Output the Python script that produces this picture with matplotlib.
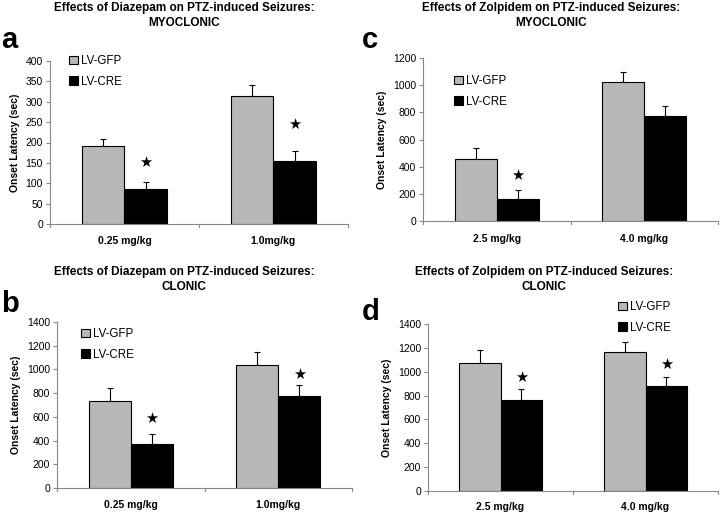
import matplotlib
matplotlib.use("Agg")
import matplotlib.pyplot as plt
from matplotlib.patches import Patch

plt.rcParams['font.family'] = ['Liberation Sans', 'DejaVu Sans']

series_names = ["LV-GFP", "LV-CRE"]

# Panel a: Diazepam myoclonic
a_cats = ["0.25 mg/kg", "1.0mg/kg"]
a_gfp = [192, 315]
a_gfp_err = [17, 27]
a_cre = [87, 155]
a_cre_err = [17, 25]
a_sig = [150, 245]  # star heights over LV-CRE

# Panel c: Zolpidem myoclonic
c_cats = ["2.5 mg/kg", "4.0 mg/kg"]
c_gfp = [460, 1025]
c_gfp_err = [80, 75]
c_cre = [160, 775]
c_cre_err = [65, 70]
c_sig = [335, None]

# Panel b: Diazepam clonic
b_cats = ["0.25 mg/kg", "1.0mg/kg"]
b_gfp = [730, 1040]
b_gfp_err = [110, 110]
b_cre = [370, 775]
b_cre_err = [85, 95]
b_sig = [590, 960]

# Panel d: Zolpidem clonic
d_cats = ["2.5 mg/kg", "4.0 mg/kg"]
d_gfp = [1070, 1165]
d_gfp_err = [115, 85]
d_cre = [765, 880]
d_cre_err = [90, 75]
d_sig = [950, 1060]

W, H = 720, 514
fig = plt.figure(figsize=(7.2, 5.14), dpi=100)

GRAY = "#b8b8b8"
SPINE = "#888888"

def px_axes(l, t, r, b):
    return fig.add_axes([l / W, 1 - b / H, (r - l) / W, (b - t) / H])

def panel(box, cats, gfp, gerr, cre, cerr, sig, ymax, ystep, title, letter,
          title_xy, letter_xy, leg_xy, tickpad):
    ax = px_axes(*box)
    x = list(range(len(cats)))
    w = 0.285
    xg = [i - w / 2 for i in x]
    xc = [i + w / 2 for i in x]
    ax.bar(xg, gfp, width=w, color=GRAY, edgecolor="black", linewidth=0.8, zorder=2)
    ax.bar(xc, cre, width=w, color="black", edgecolor="black", linewidth=0.8, zorder=2)
    ax.errorbar(xg, gfp, yerr=[[0] * len(gfp), gerr], fmt="none", ecolor="black",
                elinewidth=0.8, capsize=2.5, capthick=0.8, zorder=1)
    ax.errorbar(xc, cre, yerr=[[0] * len(cre), cerr], fmt="none", ecolor="black",
                elinewidth=0.8, capsize=2.5, capthick=0.8, zorder=1)
    for xi, s in zip(xc, sig):
        if s is not None:
            ax.text(xi, s, "★", ha="center", va="center", fontsize=10.5,
                    family=["DejaVu Sans"], color="black")
    ax.set_xlim(-0.5, len(cats) - 0.5)
    ax.set_ylim(0, ymax)
    ax.set_yticks(range(0, ymax + 1, ystep))
    ax.tick_params(axis="y", labelsize=7.5, length=3, color=SPINE, width=0.8, pad=2)
    ax.set_xticks(x)
    ax.set_xticklabels(cats, fontsize=7.5, fontweight="bold")
    ax.tick_params(axis="x", length=0, pad=tickpad)
    # boundary ticks on x axis
    for bx in [i - 0.5 for i in range(len(cats) + 1)]:
        ax.plot([bx, bx], [0, -ymax * 0.018], color=SPINE, lw=0.8, clip_on=False)
    for s in ["top", "right"]:
        ax.spines[s].set_visible(False)
    for s in ["left", "bottom"]:
        ax.spines[s].set_color(SPINE)
        ax.spines[s].set_linewidth(0.8)
    ax.set_ylabel("Onset Latency (sec)", fontsize=7.5, fontweight="bold", labelpad=4)
    fig.text(title_xy[0] / W, 1 - title_xy[1] / H, title, ha="center", va="top",
             fontsize=8.5, fontweight="bold", linespacing=1.35)
    fig.text(letter_xy[0] / W, 1 - letter_xy[1] / H, letter, ha="left", va="baseline",
             fontsize=21, fontweight="bold")
    handles = [Patch(facecolor=GRAY, edgecolor="black", linewidth=0.8),
               Patch(facecolor="black", edgecolor="black", linewidth=0.8)]
    fig.legend(handles, series_names, loc="upper left",
               bbox_to_anchor=(leg_xy[0] / W, 1 - leg_xy[1] / H),
               bbox_transform=fig.transFigure, frameon=False, fontsize=8.3,
               handlelength=0.75, handleheight=0.75, handletextpad=0.3,
               labelspacing=0.75, borderaxespad=0, borderpad=0)
    return ax

panel((50, 61, 348, 224), a_cats, a_gfp, a_gfp_err, a_cre, a_cre_err, a_sig, 400, 50,
      "Effects of Diazepam on PTZ-induced Seizures:\nMYOCLONIC", "a",
      (184, 2), (1, 48), (69, 55), 9)
panel((423, 58, 718, 221), c_cats, c_gfp, c_gfp_err, c_cre, c_cre_err, c_sig, 1200, 200,
      "Effects of Zolpidem on PTZ-induced Seizures:\nMYOCLONIC", "c",
      (551, 2), (362, 48), (454, 75), 9)
panel((57, 322, 352, 488), b_cats, b_gfp, b_gfp_err, b_cre, b_cre_err, b_sig, 1400, 200,
      "Effects of Diazepam on PTZ-induced Seizures:\nCLONIC", "b",
      (184, 266), (1, 312), (81, 328), 9)
panel((428, 324, 718, 491), d_cats, d_gfp, d_gfp_err, d_cre, d_cre_err, d_sig, 1400, 200,
      "Effects of Zolpidem on PTZ-induced Seizures:\nCLONIC", "d",
      (544, 266), (362, 320), (618, 301), 8)

fig.savefig("out.png", dpi=100)
